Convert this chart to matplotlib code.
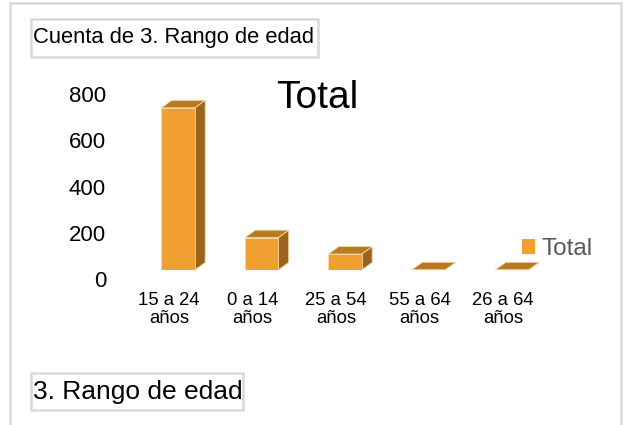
import matplotlib
matplotlib.use("Agg")
import matplotlib.pyplot as plt
from matplotlib.patches import Rectangle, Polygon, Patch
from matplotlib.transforms import ScaledTranslation

plt.rcParams['font.family'] = ['Liberation Sans', 'DejaVu Sans']

categories = ["15 a 24\naños", "0 a 14\naños", "25 a 54\naños", "55 a 64\naños", "26 a 64\naños"]
values = [702, 140, 69, 1, 1]
yticks = [0, 200, 400, 600, 800]
series_name = "Total"
header_text = "Cuenta de 3. Rango de edad"
field_text = "3. Rango de edad"

W, H = 629, 425
DPI = 100
fig = plt.figure(figsize=(W / DPI, H / DPI), dpi=DPI)

def fx(px):
    return px / W

def fy(py):
    return 1 - py / H

FRONT = "#F0A030"
TOP = "#B97B22"
SIDE = "#9A641A"
EDGE = "#F6D8A6"
BORDER = "#D9D9D9"

# outer chart frame
fig.patches.append(Rectangle((fx(10), fy(440)), fx(621) - fx(10), fy(3) - fy(440),
                             transform=fig.transFigure, fill=False, edgecolor=BORDER,
                             linewidth=1.8, zorder=0))

# axes placement (pixels)
L, R = 120, 570
base_px = 270
px_per_unit = 0.231
top_px = base_px - 800 * px_per_unit
ax = fig.add_axes([fx(L), fy(base_px), fx(R) - fx(L), fy(top_px) - fy(base_px)])
spacing = 83.5
x0 = 178
ax.set_xlim((L - x0) / spacing, (R - x0) / spacing)
ax.set_ylim(0, 800)
for s in ax.spines.values():
    s.set_visible(False)

xs = list(range(len(values)))
w = 0.40
dx = 10.5 / spacing
dy = 7.5 / px_per_unit
ax.bar(xs, values, width=w, color=FRONT, edgecolor=EDGE, linewidth=0.6, zorder=3)
for x, v in zip(xs, values):
    xl, xr = x - w / 2, x + w / 2
    top = Polygon([(xl, v), (xr, v), (xr + dx, v + dy), (xl + dx, v + dy)],
                  closed=True, facecolor=TOP, edgecolor=EDGE, linewidth=0.6,
                  zorder=2, clip_on=False)
    side = Polygon([(xr, 0), (xr + dx, dy), (xr + dx, v + dy), (xr, v)],
                   closed=True, facecolor=SIDE, edgecolor=EDGE, linewidth=0.6,
                   zorder=2, clip_on=False)
    ax.add_patch(side)
    ax.add_patch(top)

ax.set_xticks(xs)
ax.set_xticklabels(categories, fontsize=13.3, linespacing=1.05)
ax.set_yticks(yticks)
ax.set_yticklabels([str(t) for t in yticks], fontsize=16)
ax.tick_params(axis='both', length=0)
ax.tick_params(axis='x', pad=16)
ax.tick_params(axis='y', pad=10)
for lbl in ax.get_yticklabels():
    lbl.set_transform(lbl.get_transform() + ScaledTranslation(0, -9 / DPI, fig.dpi_scale_trans))
for lbl in ax.get_xticklabels():
    lbl.set_transform(lbl.get_transform() + ScaledTranslation(-9 / DPI, 0, fig.dpi_scale_trans))

# chart title
fig.text(fx(317), fy(98), series_name, fontsize=28, ha='center', va='center')

# legend
fig.legend(handles=[Patch(facecolor=FRONT, edgecolor='none', label=series_name)],
           loc='center left', bbox_to_anchor=(fx(522), fy(249)), frameon=False,
           fontsize=17.5, handlelength=0.55, handleheight=0.55, handletextpad=0.25,
           borderpad=0, borderaxespad=0, labelcolor="#595959")

# header field button
fig.patches.append(Rectangle((fx(31), fy(57)), fx(318) - fx(31), fy(19) - fy(57),
                             transform=fig.transFigure, facecolor='white', edgecolor=BORDER,
                             linewidth=1.8, zorder=1))
fig.text(fx(33), fy(38), header_text, fontsize=15.8, ha='left', va='center', zorder=2)

# axis field button
fig.patches.append(Rectangle((fx(31), fy(410)), fx(243) - fx(31), fy(373) - fy(410),
                             transform=fig.transFigure, facecolor='white', edgecolor=BORDER,
                             linewidth=1.8, zorder=1))
fig.text(fx(33), fy(392), field_text, fontsize=19, ha='left', va='center', zorder=2)

fig.savefig("out.png", dpi=DPI)
